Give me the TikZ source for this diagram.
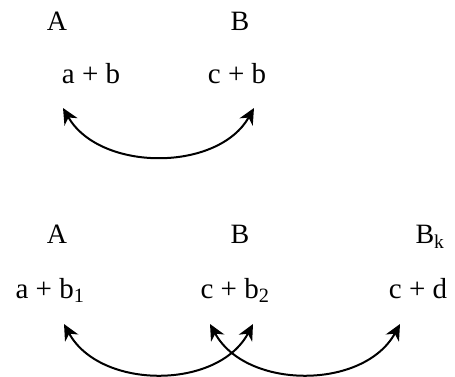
\documentclass[tikz,border=0pt]{standalone}
\usepackage{fontspec}
\setmainfont{Liberation Serif}
\usetikzlibrary{arrows.meta}
\tikzstyle{letter} = [
    anchor=base,
    inner sep=0pt,
    font=\fontsize{28}{33}\selectfont
]
\tikzstyle{term} = [
    anchor=base,
    inner sep=0pt,
    font=\fontsize{29}{34}\selectfont
]
\tikzstyle{arrow} = [line width=2pt,{Stealth[length=16pt,width=15pt,inset=5pt]}-{Stealth[length=16pt,width=15pt,inset=5pt]}]

\begin{document}
\begin{tikzpicture}[x=1pt, y=-1pt]
\useasboundingbox (0,0) rectangle (455,376);

% first pair
\node (A1) [letter] at (57,30) {A};
\node (B1) [letter] at (240,30) {B};
\node (ab) [term] at (91,83) {a + b};
\node (cb) [term] at (237,83) {c + b};

\coordinate (ab end) at (63,108);
\coordinate (cb end) at (254,108);
\draw [arrow] (ab end) .. controls (100,172) and (218,172) .. (cb end);

% second row
\node (A2) [letter] at (57,243) {A};
\node (B2) [letter] at (240,243) {B};
\node (Bk) [letter] at (430,243) {B\textsubscript{k}};
\node (ab1) [term] at (50,298) {a + b\textsubscript{1}};
\node (cb2) [term] at (235,298) {c + b\textsubscript{2}};
\node (cd) [term] at (418,298) {c + d};

\coordinate (ab1 end) at (64,324);
\coordinate (cb2 end) at (253,324);
\coordinate (cb2 start) at (210,324);
\coordinate (cd end) at (400,324);
\draw [arrow] (ab1 end) .. controls (100,390) and (218,390) .. (cb2 end);
\draw [arrow] (cb2 start) .. controls (246,390) and (364,390) .. (cd end);

\end{tikzpicture}
\end{document}
